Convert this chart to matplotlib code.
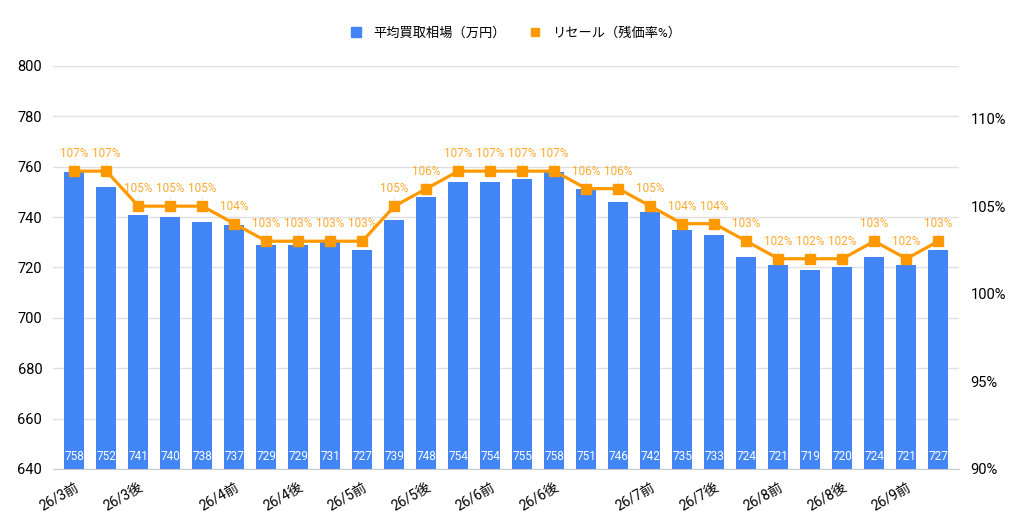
import numpy as np
import matplotlib.pyplot as plt
from matplotlib.ticker import FuncFormatter

plt.rcParams['font.family'] = ['Roboto', 'Noto Sans CJK JP', 'DejaVu Sans']

# データ
labels = ['26/3前', '', '26/3後', '', '', '26/4前', '', '26/4後', '', '26/5前',
          '', '26/5後', '', '26/6前', '', '26/6後', '', '', '26/7前', '',
          '26/7後', '', '26/8前', '', '26/8後', '', '26/9前', '']
price = [758, 752, 741, 740, 738, 737, 729, 729, 731, 727,
         739, 748, 754, 754, 755, 758, 751, 746, 742, 735,
         733, 724, 721, 719, 720, 724, 721, 727]
resale = [107, 107, 105, 105, 105, 104, 103, 103, 103, 103,
          105, 106, 107, 107, 107, 107, 106, 106, 105, 104,
          104, 103, 102, 102, 102, 103, 102, 103]

bar_color = '#4285F4'
line_color = '#FF9900'
x = np.arange(len(price))
rate = np.array(resale) / 100

fig = plt.figure(figsize=(10.24, 5.25), dpi=100)
ax = fig.add_axes([0.052, 0.1067, 0.885, 0.7676])
ax2 = ax.twinx()

ax.bar(x, price, width=0.62, color=bar_color, zorder=2, label='平均買取相場（万円）')
ax.set_ylim(640, 800)
ax.set_xlim(-0.66, len(x) - 1 + 0.66)
ax.set_yticks(np.arange(640, 801, 20))
ax.grid(axis='y', color='#e0e0e0', linewidth=1, zorder=0)
ax.set_axisbelow(True)
for i, v in enumerate(price):
    ax.text(i, 642.3, str(v), ha='center', va='bottom', color='white', fontsize=8.5, zorder=3)

ax2.plot(x, rate, color=line_color, linewidth=2.3, marker='s', markersize=7,
         zorder=4, label='リセール（残価率%）')
ax2.set_ylim(0.9, 1.13)
ax2.set_yticks([0.90, 0.95, 1.00, 1.05, 1.10])
ax2.yaxis.set_major_formatter(FuncFormatter(lambda v, p: f'{v * 100:.0f}%'))
for i, v in enumerate(resale):
    ax2.annotate(f'{v}%', (i, rate[i]), xytext=(0, 8), textcoords='offset points',
                 ha='center', va='bottom', color='#FBAA2E', fontsize=8.5,
                 arrowprops=dict(arrowstyle='-', color='#ececec', linewidth=0.8,
                                 shrinkA=0, shrinkB=4))

ax.set_xticks(x)
ax.set_xticklabels(labels, rotation=30, ha='right', rotation_mode='anchor', fontsize=10)
ax.tick_params(axis='x', length=0, pad=8)
ax.tick_params(axis='y', length=0, labelsize=10.5, pad=8)
ax2.tick_params(axis='y', length=0, labelsize=10.5, pad=8)

for a in (ax, ax2):
    for s in ['top', 'left', 'right']:
        a.spines[s].set_visible(False)
ax.spines['bottom'].set_color('#cccccc')
ax2.spines['bottom'].set_visible(False)

l1 = ax.get_legend_handles_labels()[1]
l2 = ax2.get_legend_handles_labels()[1]
handles = [plt.Line2D([], [], marker='s', linestyle='', color=bar_color, markersize=7),
           plt.Line2D([], [], marker='s', linestyle='', color=line_color, markersize=6)]
fig.legend(handles, l1 + l2, loc='center', bbox_to_anchor=(0.5, 0.937), ncol=2,
           frameon=False, fontsize=9.5, handletextpad=0.3, columnspacing=1.2)

fig.savefig('out.png', dpi=100)
